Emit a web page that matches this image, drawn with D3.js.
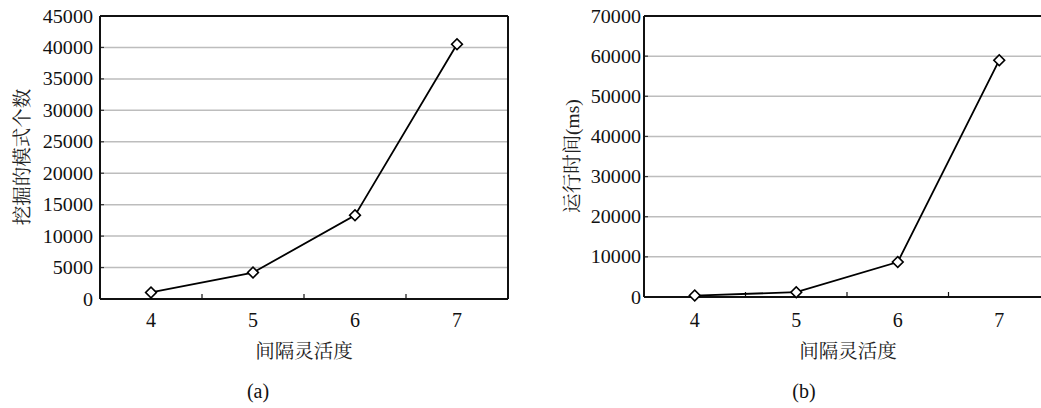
<!DOCTYPE html>
<html>
<head>
<meta charset="utf-8">
<script src="https://cdn.jsdelivr.net/npm/d3@7"></script>
<style>
  html, body { margin: 0; padding: 0; background: #ffffff; }
  svg { display: block; }
</style>
</head>
<body>
<svg id="chart" width="1041" height="408"></svg>
<script>
// ---- data ----
const categories = ["4", "5", "6", "7"];
const patternCounts = [1050, 4200, 13300, 40500];   // (a) 挖掘的模式个数
const runTimes = [350, 1200, 8700, 59000];           // (b) 运行时间(ms)
const yTicksA = [0, 5000, 10000, 15000, 20000, 25000, 30000, 35000, 40000, 45000];
const yTicksB = [0, 10000, 20000, 30000, 40000, 50000, 60000, 70000];
const xTitle = "间隔灵活度";
const yTitleA = ["挖掘的模式个数", ""];
const yTitleB = ["运行时间", "(ms)"];
const captionA = "(a)";
const captionB = "(b)";

const SERIF = "'Liberation Serif', 'Times New Roman', serif";
const CJK = "'Noto Serif CJK SC', 'Noto Sans CJK SC', serif";

const svg = d3.select("#chart");

function drawPanel(opt) {
  const g = svg.append("g");
  const x = d3.scaleBand().domain(categories).range([opt.left, opt.right]);
  const y = d3.scaleLinear().domain([0, opt.yMax]).range([opt.bottom, opt.top]);

  // grid lines
  g.selectAll("line.grid").data(opt.yTicks.filter(t => t > 0 && t < opt.yMax))
    .enter().append("line")
    .attr("x1", opt.left).attr("x2", opt.right)
    .attr("y1", d => y(d)).attr("y2", d => y(d))
    .attr("stroke", "#bdbdbd").attr("stroke-width", 1.5);

  // small inner tick stubs on y axis
  g.selectAll("line.ytick").data(opt.yTicks)
    .enter().append("line")
    .attr("x1", opt.left).attr("x2", opt.left + 4)
    .attr("y1", d => y(d)).attr("y2", d => y(d))
    .attr("stroke", "#333").attr("stroke-width", 1.2);

  // x ticks between categories (inner, upward)
  const bounds = categories.slice(1).map(c => x(c));
  g.selectAll("line.xtick").data(bounds)
    .enter().append("line")
    .attr("x1", d => d).attr("x2", d => d)
    .attr("y1", opt.bottom).attr("y2", opt.bottom - 5)
    .attr("stroke", "#111").attr("stroke-width", 1.2);

  // frame
  const frameRight = Math.min(opt.right, 1041);
  g.append("line").attr("x1", opt.left).attr("x2", frameRight).attr("y1", opt.top).attr("y2", opt.top)
    .attr("stroke", "#111").attr("stroke-width", 2);
  g.append("line").attr("x1", opt.left).attr("x2", frameRight).attr("y1", opt.bottom).attr("y2", opt.bottom)
    .attr("stroke", "#111").attr("stroke-width", 2);
  g.append("line").attr("x1", opt.left).attr("x2", opt.left).attr("y1", opt.top).attr("y2", opt.bottom)
    .attr("stroke", "#111").attr("stroke-width", 2);
  if (opt.right <= 1041) {
    g.append("line").attr("x1", opt.right).attr("x2", opt.right).attr("y1", opt.top).attr("y2", opt.bottom)
      .attr("stroke", "#111").attr("stroke-width", 2);
  }

  // y tick labels
  g.selectAll("text.ylab").data(opt.yTicks)
    .enter().append("text")
    .attr("transform", d => `translate(${opt.left - opt.labelGap},${y(d) + 6.5}) scale(1.06,1)`)
    .attr("text-anchor", "end")
    .attr("font-family", SERIF)
    .attr("font-size", 19)
    .attr("fill", "#111")
    .text(d => d);

  // x tick labels
  g.selectAll("text.xlab").data(categories)
    .enter().append("text")
    .attr("x", d => x(d) + x.bandwidth() / 2)
    .attr("y", 327)
    .attr("text-anchor", "middle")
    .attr("font-family", SERIF)
    .attr("font-size", 20)
    .attr("fill", "#111")
    .text(d => d);

  // x title
  g.append("text")
    .attr("x", opt.xTitleX).attr("y", 358)
    .attr("text-anchor", "middle")
    .attr("font-family", CJK)
    .attr("font-size", 19.5)
    .attr("fill", "#222")
    .text(xTitle);

  // y title
  const yt = g.append("text")
    .attr("transform", `translate(${opt.yTitleX},${opt.yTitleY}) rotate(-90)`)
    .attr("text-anchor", "middle")
    .attr("font-size", 19.5)
    .attr("fill", "#222");
  yt.append("tspan").attr("font-family", CJK).text(opt.yTitle[0]);
  if (opt.yTitle[1]) yt.append("tspan").attr("font-family", SERIF).text(opt.yTitle[1]);

  // caption
  g.append("text")
    .attr("x", opt.captionX).attr("y", 398)
    .attr("text-anchor", "middle")
    .attr("font-family", SERIF)
    .attr("font-size", 20)
    .attr("fill", "#111")
    .text(opt.caption);

  // line
  const pts = categories.map((c, i) => [x(c) + x.bandwidth() / 2, y(opt.values[i])]);
  g.append("path")
    .attr("d", d3.line()(pts))
    .attr("fill", "none").attr("stroke", "#000").attr("stroke-width", 1.8);

  // diamond markers
  const sym = d3.symbol().type(d3.symbolSquare).size(58);
  g.selectAll("path.mk").data(pts)
    .enter().append("path")
    .attr("d", sym)
    .attr("transform", d => `translate(${d[0]},${d[1]}) rotate(45)`)
    .attr("fill", "#fff").attr("stroke", "#000").attr("stroke-width", 1.6);
}

drawPanel({
  left: 100, right: 508, top: 16, bottom: 299,
  yMax: 45000, yTicks: yTicksA, values: patternCounts,
  labelGap: 7, yTitle: yTitleA, yTitleX: 29, yTitleY: 157,
  xTitleX: 304, caption: captionA, captionX: 258
});

drawPanel({
  left: 644, right: 1050, top: 16, bottom: 297,
  yMax: 70000, yTicks: yTicksB, values: runTimes,
  labelGap: 3, yTitle: yTitleB, yTitleX: 579, yTitleY: 156,
  xTitleX: 848, caption: captionB, captionX: 804
});
</script>
</body>
</html>
